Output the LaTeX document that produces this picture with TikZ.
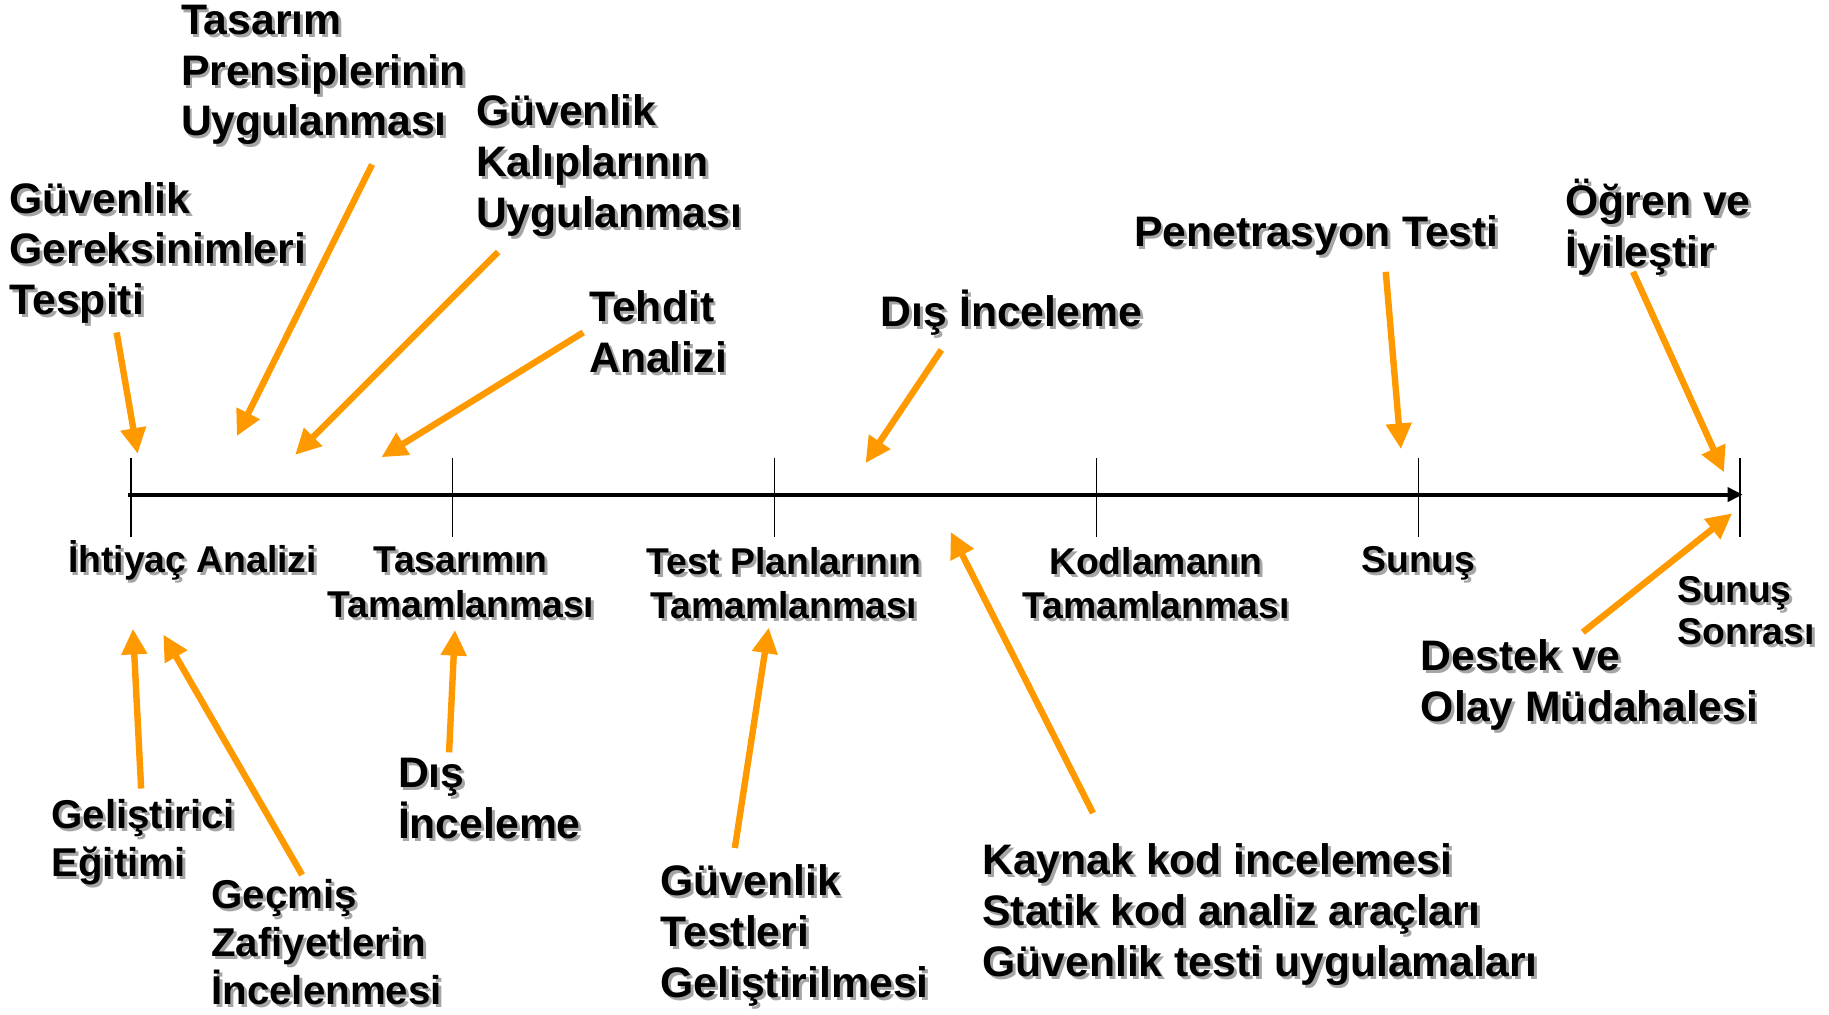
\documentclass[tikz,border=0pt]{standalone}
\usepackage{fontspec}
\setmainfont{Liberation Sans}
\usetikzlibrary{arrows.meta}
\definecolor{arrorange}{RGB}{255,153,0}
\definecolor{shadowgray}{RGB}{165,165,165}
\newcommand\shlabel[4]{%
  \node[#1,text=shadowgray,xshift=2.5pt,yshift=-2.5pt] (#3-s) at #2 {#4};
  \node[#1] (#3) at #2 {#4};}
\begin{document}
\begin{tikzpicture}[x=1pt,y=-1pt,
  big/.style={anchor=north west,inner sep=0pt,align=left,
    font=\fontsize{36.6}{43.6}\selectfont\bfseries,yshift=40pt,
    execute at begin node={\rule{0pt}{40pt}}},
  mid/.style={anchor=north west,inner sep=0pt,align=left,
    font=\fontsize{34.5}{41}\selectfont\bfseries,yshift=38pt,
    execute at begin node={\rule{0pt}{38pt}}},
  small/.style={anchor=north,inner sep=0pt,align=center,
    font=\fontsize{32}{38}\selectfont\bfseries,yshift=35pt,
    execute at begin node={\rule{0pt}{35pt}}},
  smallleft/.style={small,anchor=north west,align=left,
    font=\fontsize{32}{36}\selectfont\bfseries},
  arr/.style={draw=arrorange,line width=5.5pt,
    -{Triangle[length=22pt,width=21pt]}},
  tick/.style={draw=black,line width=1.5pt},
  axis/.style={draw=black,line width=3.5pt,-{Triangle[length=13pt,width=12pt]}}
]
\fill[white] (0,0) rectangle (1568,870);
\useasboundingbox (0,0) rectangle (1568,870);

% axis and ticks
\coordinate (a0) at (110,424);
\coordinate (a1) at (1494,424);
\foreach \i/\x in {1/112,2/388,3/664,4/940,5/1216,6/1492}{
  \coordinate (t\i top) at (\x,393);
  \coordinate (t\i bot) at (\x,460);
  \draw[tick] (t\i top) -- (t\i bot);
}
\draw[axis] (a0) -- (a1);

% milestone labels
\shlabel{small}{(165,491)}{m1}{İhtiyaç Analizi}
\shlabel{small}{(395,504)}{m2}{Tasarımın\\Tamamlanması}
\shlabel{small}{(672,504)}{m3}{Test Planlarının\\Tamamlanması}
\shlabel{small}{(991,504)}{m4}{Kodlamanın\\Tamamlanması}
\shlabel{small}{(1216,491)}{m5}{Sunuş}
\shlabel{smallleft}{(1438,529)}{m6}{Sunuş\\Sonrası}

% upper labels
\shlabel{big}{(155,44)}{tp}{Tasarım\\Prensiplerinin\\Uygulanması}
\shlabel{big}{(408,121)}{gk}{Güvenlik\\Kalıplarının\\Uygulanması}
\shlabel{big}{(8,196)}{gr}{Güvenlik\\Gereksinimleri\\Tespiti}
\shlabel{big}{(505,289)}{ta}{Tehdit\\Analizi}
\shlabel{big}{(755,280)}{dia}{Dış İnceleme}
\shlabel{big}{(972,211)}{pt}{Penetrasyon Testi}
\shlabel{big}{(1342,193)}{oi}{Öğren ve\\İyileştir}

% lower labels
\shlabel{mid}{(44,723)}{ge}{Geliştirici\\Eğitimi}
\shlabel{mid}{(181,792)}{gz}{Geçmiş\\Zafiyetlerin\\İncelenmesi}
\shlabel{big}{(341,690)}{dib}{Dış\\İnceleme}
\shlabel{big}{(566,781)}{gt}{Güvenlik\\Testleri\\Geliştirilmesi}
\shlabel{big}{(842,763)}{kk}{Kaynak kod incelemesi\\Statik kod analiz araçları\\Güvenlik testi uygulamaları}
\shlabel{big}{(1218,588)}{dm}{Destek ve\\Olay Müdahalesi}

% arrow end points
\coordinate (grA) at (100,285);  \coordinate (grB) at (118,389);
\coordinate (tpA) at (319,141);  \coordinate (tpB) at (203,374);
\coordinate (gkA) at (427,216);  \coordinate (gkB) at (253,390);
\coordinate (taA) at (500,285);  \coordinate (taB) at (327,392);
\coordinate (diaA) at (807,300); \coordinate (diaB) at (742,397);
\coordinate (ptA) at (1188,233); \coordinate (ptB) at (1201,385);
\coordinate (oiA) at (1400,233); \coordinate (oiB) at (1478,405);
\coordinate (dmA) at (1357,542); \coordinate (dmB) at (1485,440);
\coordinate (kkA) at (937,697);  \coordinate (kkB) at (815,456);
\coordinate (gtA) at (630,727);  \coordinate (gtB) at (659,538);
\coordinate (dibA) at (385,645); \coordinate (dibB) at (390,540);
\coordinate (geA) at (121,676);  \coordinate (geB) at (114,539);
\coordinate (gzA) at (259,750);  \coordinate (gzB) at (140,544);

\foreach \n in {gr,tp,gk,ta,dia,pt,oi,dm,kk,gt,dib,ge,gz}{
  \draw[arr] (\n A) -- (\n B);
}
\end{tikzpicture}
\end{document}
